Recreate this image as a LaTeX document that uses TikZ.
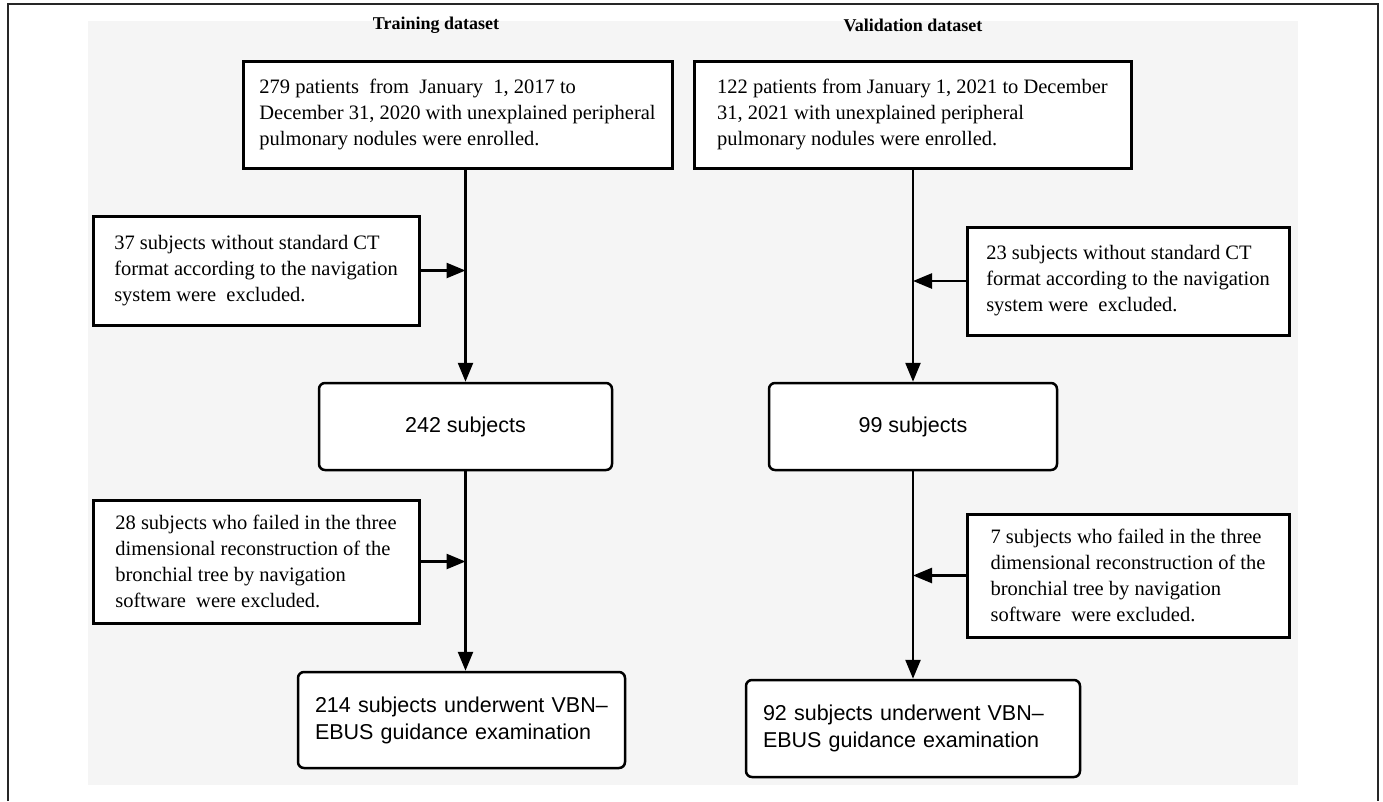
\documentclass[tikz,border=0pt]{standalone}
\usepackage{fontspec}
\setmainfont{Liberation Serif}
\setsansfont{Liberation Sans}
\usetikzlibrary{arrows.meta}

\tikzset{
  exbox/.style={draw, line width=3pt, fill=white, align=left, inner xsep=8pt,
    font=\fontsize{20.5}{26}\selectfont},
  cntbox/.style={draw, line width=2.5pt, fill=white, rounded corners=6pt, align=left,
    inner xsep=17pt, font=\sffamily\fontsize{21.5}{27}\selectfont},
  flow/.style={line width=2.5pt, -{Triangle[length=19pt,width=15pt]}},
}

\begin{document}
\begin{tikzpicture}[x=1pt,y=1pt,yscale=-1,xscale=1]
\useasboundingbox (0,0) rectangle (1383,801);

%Frame and background
\draw [line width=1.5pt, black!85] (8,801) -- (8,4) -- (1378,4) -- (1378,801);
\fill [black!4] (88,21) rectangle (1298,785);

% Text Node
\node (ttrain) at (436,25) [font=\fontsize{18}{22}\selectfont\bfseries] {Training dataset};
% Text Node
\node (tval) at (913,25) [font=\fontsize{18}{22}\selectfont\bfseries] {Validation dataset};

%Enrolled
\node (top1) at (457.5,114.5) [exbox, minimum width=429pt, minimum height=107pt]
  {279 patients\ \ from\ \ January\ \ 1, 2017 to\\December 31, 2020 with unexplained peripheral\\pulmonary nodules were enrolled.};
\node (top2) at (912.5,114.5) [exbox, minimum width=437pt, minimum height=107pt]
  {122 patients from January 1, 2021 to December\\31, 2021 with unexplained peripheral\\pulmonary nodules were enrolled.};

%Excluded
\node (ex1) at (256,270.5) [exbox, minimum width=326pt, minimum height=109pt]
  {37 subjects without standard CT\\format according to the navigation\\system were\ \ excluded.};
\node (ex2) at (256,561.5) [exbox, minimum width=326pt, minimum height=123pt]
  {28 subjects who failed in the three\\dimensional reconstruction of the\\bronchial tree by navigation\\software\ \ were excluded.};
\node (ex3) at (1128,281) [exbox, minimum width=322pt, minimum height=108pt]
  {23 subjects without standard CT\\format according to the navigation\\system were\ \ excluded.};
\node (ex4) at (1128,575.5) [exbox, minimum width=322pt, minimum height=123pt]
  {7 subjects who failed in the three\\dimensional reconstruction of the\\bronchial tree by navigation\\software\ \ were excluded.};

%Counts
\node (n242) at (465.5,426.5) [cntbox, align=center, minimum width=293pt, minimum height=87pt] {242 subjects};
\node (n99) at (913,426.5) [cntbox, align=center, minimum width=288pt, minimum height=87pt] {99 subjects};
\node (fin1) at (461.5,720) [cntbox, text width=293pt, minimum height=96pt]
  {214 subjects underwent VBN--\\EBUS guidance examination};
\node (fin2) at (913,728.5) [cntbox, text width=300pt, minimum height=97pt]
  {92 subjects underwent VBN--\\EBUS guidance examination};

%Arrows
\draw [flow] (top1.south -| n242.north) -- (n242.north);
\draw [flow] (n242.south) -- (fin1.north -| n242.south);
\draw [flow] (top2.south -| n99.north) -- (n99.north);
\draw [flow] (n99.south) -- (fin2.north);
\draw [flow] (ex1.east) -- (ex1.east -| n242.north);
\draw [flow] (ex2.east) -- (ex2.east -| n242.north);
\draw [flow] (ex3.west) -- (ex3.west -| n99.north);
\draw [flow] (ex4.west) -- (ex4.west -| n99.north);

\end{tikzpicture}
\end{document}
